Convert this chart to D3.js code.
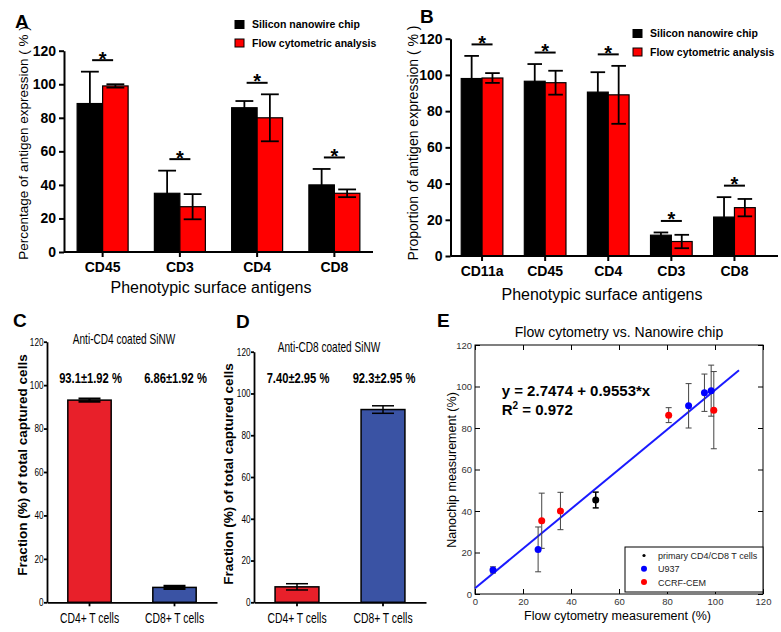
<!DOCTYPE html>
<html>
<head>
<meta charset="utf-8">
<script src="https://cdn.jsdelivr.net/npm/d3@7"></script>
<style>
  body { margin: 0; background: #fff; }
  svg text { font-family: Arial, "Liberation Sans", sans-serif; }
</style>
</head>
<body>
<div id="visSpace"></div>
<script>
//---- Data ----
//Panel A : primary cells
var antigensA = ["CD45", "CD3", "CD4", "CD8"];
var chipA = [88.5, 35, 86, 40];
var chipErrA = [19, 13.5, 4, 9.5];
var flowA = [99, 27, 80, 35];
var flowErrA = [1, 7.5, 14, 2.3];

//Panel B : U937
var antigensB = ["CD11a", "CD45", "CD4", "CD3", "CD8"];
var chipB = [98, 96.5, 90.5, 11.5, 21.5];
var chipErrB = [12.5, 9.5, 11, 1.5, 11];
var flowB = [98.3, 95.7, 89, 8, 26.7];
var flowErrB = [2.7, 6.6, 16, 3.7, 4.8];

var seriesNames = ["Silicon nanowire chip", "Flow cytometric analysis"];

//Panels C and D : fraction of captured cells
var cellTypes = ["CD4+ T cells", "CD8+ T cells"];
var fracC = [93.1, 6.86];
var fracErrC = [0.7, 0.7];
var labelsC = ["93.1\u00b11.92 %", "6.86\u00b11.92 %"];
var fracD = [7.4, 92.3];
var fracErrD = [1.5, 1.8];
var labelsD = ["7.40\u00b12.95 %", "92.3\u00b12.95 %"];

//Panel E : flow cytometry vs chip
var primaryFlow = [50.3];
var primaryChip = [45.3];
var primaryErr = [3.8];
var u937Flow = [7.5, 26.3, 89, 95.6, 98.4];
var u937Chip = [11.6, 21.5, 90.7, 97, 98];
var u937Err = [1.5, 10.8, 10.7, 9, 12.3];
var cemFlow = [27.8, 35.6, 80.7, 99.5];
var cemChip = [35.3, 40, 86.2, 88.6];
var cemErr = [13.3, 9, 3.6, 18.6];
var fitIntercept = 2.7474;
var fitSlope = 0.9553;
var fitRange = [0, 110];
var legendE = ["primary CD4/CD8 T cells", "U937", "CCRF-CEM"];

var yTicks = d3.range(0, 121, 20);

var svg = d3.select("#visSpace")
            .append("svg")
            .attr("width", 781)
            .attr("height", 632);

//Small helper for axis styling
function styleAxis(ax, width, size, weight) {
  ax.select(".domain").attr("stroke-width", width);
  ax.selectAll(".tick line").attr("stroke-width", width);
  ax.selectAll("text")
    .attr("font-family", "Arial, sans-serif")
    .attr("font-size", size)
    .attr("font-weight", weight)
    .attr("fill", "#000");
}

//no condensed font installed, so C/D text is squeezed horizontally
function narrowText(g, x, y, s, size, weight, k) {
  return g.append("text")
          .attr("transform", "translate(" + x + "," + y + ") scale(" + k + ",1)")
          .attr("text-anchor", "middle")
          .attr("font-size", size)
          .attr("font-weight", weight)
          .text(s);
}

//Vertical error bar with caps
function errBar(g, cx, yTop, yBot, capW, width, colour) {
  g.append("line").attr("x1", cx).attr("x2", cx).attr("y1", yTop).attr("y2", yBot)
   .attr("stroke", colour).attr("stroke-width", width);
  [yTop, yBot].forEach(function(yy){
    g.append("line").attr("x1", cx - capW / 2).attr("x2", cx + capW / 2)
     .attr("y1", yy).attr("y2", yy)
     .attr("stroke", colour).attr("stroke-width", width);
  });
}

//---- Grouped bar panels (A, B) ----
function groupedPanel(p) {
  var g = svg.append("g");
  var x0 = d3.scaleBand().domain(p.cats).range(p.xr).paddingInner(0.34).paddingOuter(0.17);
  var x1 = d3.scaleBand().domain([0, 1]).range([0, x0.bandwidth()]);
  var y = d3.scaleLinear().domain([0, 120]).range(p.yr);
  var vals = [p.chip, p.flow], errs = [p.chipErr, p.flowErr], fills = ["#000", "#ff0000"];

  vals.forEach(function(series, s){
    g.selectAll(null)
     .data(series)
     .enter()
     .append("rect")
     .attr("x", function(d, i){return x0(p.cats[i]) + x1(s);})
     .attr("y", function(d){return y(d);})
     .attr("width", x1.bandwidth())
     .attr("height", function(d){return y(0) - y(d);})
     .attr("fill", fills[s])
     .attr("stroke", "#000")
     .attr("stroke-width", 1.2);
  });
  vals.forEach(function(series, s){
    series.forEach(function(d, i){
      var cx = x0(p.cats[i]) + x1(s) + x1.bandwidth() / 2;
      errBar(g, cx, y(d + errs[s][i]), y(d - errs[s][i]), x1.bandwidth() * 0.7, 1.8, "#000");
    });
  });

  //significance marks above each pair
  p.cats.forEach(function(c, i){
    var top = Math.max(p.chip[i] + p.chipErr[i], p.flow[i] + p.flowErr[i]);
    var ly = y(top) - 11.5;
    var cx = x0(c) + x0.bandwidth() / 2;
    g.append("line").attr("x1", cx - 10.5).attr("x2", cx + 10.5)
     .attr("y1", ly).attr("y2", ly).attr("stroke", "#000").attr("stroke-width", 2);
    g.append("text").attr("x", cx).attr("y", ly + 5.5)
     .attr("text-anchor", "middle").attr("font-size", "20px").attr("font-weight", "bold")
     .text("*");
  });

  var yAx = g.append("g")
             .attr("transform", "translate(" + p.xr[0] + ",0)")
             .call(d3.axisLeft(y).tickValues(yTicks).tickSize(5).tickSizeOuter(0).tickPadding(3));
  styleAxis(yAx, 2, "14px", "bold");
  var xAx = g.append("g")
             .attr("transform", "translate(0," + y(0) + ")")
             .call(d3.axisBottom(x0).tickSize(5).tickSizeOuter(0).tickPadding(5));
  styleAxis(xAx, 2, "14px", "bold");
  //axis line runs a little past the last group
  xAx.select(".domain").attr("d", "M" + p.xr[0] + ",0H" + p.xEnd);

  //axis titles
  g.append("text").attr("x", p.xTitle[0]).attr("y", p.xTitle[1])
   .attr("text-anchor", "middle").attr("font-size", "16px").text("Phenotypic surface antigens");
  g.append("text")
   .attr("transform", "translate(" + p.yTitle[0] + "," + p.yTitle[1] + ") rotate(-90)")
   .attr("text-anchor", "middle").attr("font-size", p.yTitle[2]).text(p.yLabel);

  //legend
  seriesNames.forEach(function(n, s){
    g.append("rect").attr("x", p.legend[0]).attr("y", p.legend[1] + s * 18.5)
     .attr("width", 9).attr("height", 8).attr("fill", fills[s])
     .attr("stroke", "#000").attr("stroke-width", 1);
    g.append("text").attr("x", p.legend[0] + 17).attr("y", p.legend[1] + 7.5 + s * 18.5)
     .attr("font-size", "10.5px").attr("font-weight", "bold").text(n);
  });

  g.append("text").attr("x", p.tag[0]).attr("y", p.tag[1])
   .attr("font-size", "19px").attr("font-weight", "bold").text(p.tagText);
}

groupedPanel({cats: antigensA, chip: chipA, chipErr: chipErrA, flow: flowA, flowErr: flowErrA,
              xr: [64, 373], xEnd: 373, yr: [252, 50.7], xTitle: [211, 293],
              yTitle: [28, 143, "13.5px"],
              yLabel: "Percentage of antigen expression ( % )", legend: [235, 20.5],
              tag: [15, 28], tagText: "A"});
groupedPanel({cats: antigensB, chip: chipB, chipErr: chipErrB, flow: flowB, flowErr: flowErrB,
              xr: [450.5, 766], xEnd: 778, yr: [256, 38.7], xTitle: [602, 300],
              yTitle: [418, 143, "14px"],
              yLabel: "Proportion of antigen expression ( % )", legend: [633, 29.5],
              tag: [420, 23], tagText: "B"});

//---- Fraction panels (C, D) ----
function fractionPanel(p) {
  var g = svg.append("g");
  var x = d3.scaleBand().domain(cellTypes).range(p.xr).paddingInner(0.49).paddingOuter(0.245);
  var y = d3.scaleLinear().domain([0, 120]).range(p.yr);
  var fills = ["#e8202a", "#3a53a4"];

  g.selectAll(null)
   .data(p.vals)
   .enter()
   .append("rect")
   .attr("x", function(d, i){return x(cellTypes[i]);})
   .attr("y", function(d){return y(d);})
   .attr("width", x.bandwidth())
   .attr("height", function(d){return y(0) - y(d);})
   .attr("fill", function(d, i){return fills[i];})
   .attr("stroke", "#000")
   .attr("stroke-width", 1.5);
  p.vals.forEach(function(d, i){
    var cx = x(cellTypes[i]) + x.bandwidth() / 2;
    errBar(g, cx, y(d + p.errs[i]), y(d - p.errs[i]), 22, p.errW, "#000");
    narrowText(g, cx + 1, p.labelY, p.labels[i], "14px", "bold", 0.8);
  });

  var yAx = g.append("g")
             .attr("transform", "translate(" + p.xr[0] + ",0)")
             .call(d3.axisLeft(y).tickValues(yTicks).tickSize(3).tickSizeOuter(0).tickPadding(1.5));
  styleAxis(yAx, 1.8, "10.5px", "normal");
  yAx.selectAll("text").attr("transform", "scale(0.78,1)");
  var xAx = g.append("g")
             .attr("transform", "translate(0," + y(0) + ")")
             .call(d3.axisBottom(x).tickSize(4).tickSizeOuter(0).tickPadding(7));
  styleAxis(xAx, 1.8, "14px", "normal");
  xAx.selectAll("text").attr("transform", "scale(0.74,1)");

  narrowText(g, p.title[0], p.title[1], p.titleText, "14px", "normal", 0.72);
  g.append("text")
   .attr("transform", "translate(" + p.yTitle[0] + "," + p.yTitle[1] + ") rotate(-90)")
   .attr("text-anchor", "middle").attr("font-size", "13.5px").attr("font-weight", "bold")
   .text("Fraction (%) of total captured cells");
  g.append("text").attr("x", p.tag[0]).attr("y", p.tag[1])
   .attr("font-size", "19px").attr("font-weight", "bold").text(p.tagText);
}

fractionPanel({vals: fracC, errs: fracErrC, labels: labelsC, errW: 2.2, labelY: 383,
               xr: [47, 217], yr: [602.3, 341.7], title: [124, 344],
               titleText: "Anti-CD4 coated SiNW", yTitle: [26.5, 465], tag: [13, 327], tagText: "C"});
fractionPanel({vals: fracD, errs: fracErrD, labels: labelsD, errW: 1.5, labelY: 382.7,
               xr: [254, 426], yr: [602.3, 351.7], title: [329, 352],
               titleText: "Anti-CD8 coated SiNW", yTitle: [233, 474], tag: [236, 328], tagText: "D"});

//---- Scatter panel (E) ----
var gE = svg.append("g");
var xE = d3.scaleLinear().domain([0, 120]).range([475, 763]);
var yE = d3.scaleLinear().domain([0, 120]).range([594, 345]);

gE.append("rect").attr("x", xE(0)).attr("y", yE(120))
  .attr("width", xE(120) - xE(0)).attr("height", yE(0) - yE(120))
  .attr("fill", "none").attr("stroke", "#000").attr("stroke-width", 1);

var axB = gE.append("g").attr("transform", "translate(0," + yE(0) + ")")
            .call(d3.axisBottom(xE).tickValues(yTicks).tickSize(-5).tickSizeOuter(0).tickPadding(4));
var axT = gE.append("g").attr("transform", "translate(0," + yE(120) + ")")
            .call(d3.axisTop(xE).tickValues(yTicks).tickSize(-5).tickSizeOuter(0).tickFormat(""));
var axL = gE.append("g").attr("transform", "translate(" + xE(0) + ",0)")
            .call(d3.axisLeft(yE).tickValues(yTicks).tickSize(-5).tickSizeOuter(0).tickPadding(3));
var axR = gE.append("g").attr("transform", "translate(" + xE(120) + ",0)")
            .call(d3.axisRight(yE).tickValues(yTicks).tickSize(-5).tickSizeOuter(0).tickFormat(""));
[axB, axT, axL, axR].forEach(function(ax){
  ax.select(".domain").remove();
  ax.selectAll(".tick line").attr("stroke", "#000").attr("stroke-width", 1);
  ax.selectAll("text").attr("font-size", "9.5px").attr("fill", "#333")
    .attr("font-family", "Arial, sans-serif");
});

//fitted line
gE.append("line")
  .attr("x1", xE(fitRange[0])).attr("y1", yE(fitIntercept + fitSlope * fitRange[0]))
  .attr("x2", xE(fitRange[1])).attr("y2", yE(fitIntercept + fitSlope * fitRange[1]))
  .attr("stroke", "#1a1aff").attr("stroke-width", 2);

var groupsE = [
  {fx: primaryFlow, cy: primaryChip, err: primaryErr, colour: "#000", r: 3.5, ec: "#000", ew: 1.5},
  {fx: u937Flow, cy: u937Chip, err: u937Err, colour: "#0000ff", r: 3.5, ec: "#444", ew: 1},
  {fx: cemFlow, cy: cemChip, err: cemErr, colour: "#ff0000", r: 3.5, ec: "#444", ew: 1}
];
groupsE.forEach(function(grp){
  grp.fx.forEach(function(fx, i){
    errBar(gE, xE(fx), yE(grp.cy[i] + grp.err[i]), yE(grp.cy[i] - grp.err[i]), 6, grp.ew, grp.ec);
  });
});
groupsE.forEach(function(grp){
  gE.selectAll(null)
    .data(grp.fx)
    .enter()
    .append("circle")
    .attr("cx", function(d){return xE(d);})
    .attr("cy", function(d, i){return yE(grp.cy[i]);})
    .attr("r", grp.r)
    .attr("fill", grp.colour);
});

//legend
gE.append("rect").attr("x", 625).attr("y", 547).attr("width", xE(120) - 625).attr("height", 45)
  .attr("fill", "#fff").attr("stroke", "#000").attr("stroke-width", 1);
legendE.forEach(function(n, i){
  gE.append("circle").attr("cx", 644).attr("cy", 555.5 + i * 13.3)
    .attr("r", i === 0 ? 1.6 : 3).attr("fill", groupsE[i].colour);
  gE.append("text").attr("x", 658).attr("y", 559 + i * 13.3)
    .attr("font-size", "9px").attr("fill", "#222").text(n);
});

//equation
var eq = gE.append("g").attr("font-family", "'Liberation Serif', 'Times New Roman', serif")
           .attr("font-weight", "bold").attr("font-size", "15px");
eq.append("text").attr("x", 501.7).attr("y", 396)
  .text("y = " + fitIntercept + " + " + fitSlope + "*x");
var r2 = eq.append("text").attr("x", 501.7).attr("y", 415);
r2.append("tspan").text("R");
r2.append("tspan").attr("font-size", "10px").attr("dy", -6).text("2");
r2.append("tspan").attr("dy", 6).text(" = 0.972");

gE.append("text").attr("x", 619).attr("y", 336.7).attr("text-anchor", "middle")
  .attr("font-size", "14px").text("Flow cytometry vs. Nanowire chip");
gE.append("text").attr("x", 617.5).attr("y", 620).attr("text-anchor", "middle")
  .attr("font-size", "12.5px").text("Flow cytometry measurement (%)");
gE.append("text").attr("transform", "translate(456,470) rotate(-90)").attr("text-anchor", "middle")
  .attr("font-size", "12.5px").text("Nanochip measurement (%)");
gE.append("text").attr("x", 437).attr("y", 327)
  .attr("font-size", "19px").attr("font-weight", "bold").text("E");
</script>
</body>
</html>
